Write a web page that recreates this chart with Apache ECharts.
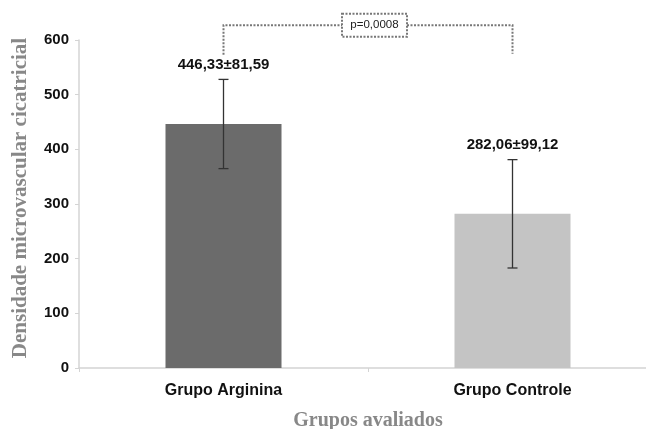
<!DOCTYPE html>
<html><head><meta charset="utf-8">
<script src="https://cdn.jsdelivr.net/npm/echarts@6/dist/echarts.min.js"></script>
<style>html,body{margin:0;padding:0;background:#fff}#c{width:646px;height:429px}</style>
</head><body><div id="c"></div>
<script>
const categories = ['Grupo Arginina', 'Grupo Controle'];
const means = [446.33, 282.06];
const sds = [81.59, 99.12];
const barLabels = ['446,33±81,59', '282,06±99,12'];
const barColors = ['#6b6b6b', '#c4c4c4'];
const yTicks = [0, 100, 200, 300, 400, 500, 600];
const pLabel = 'p=0,0008';
const bracketLevels = [627, 573, 575]; // top, left foot, right foot (data units)

const chart = echarts.init(document.getElementById('c'));
const option = {
  animation: false,
  grid: { left: 79, top: 40, width: 578, height: 328, outerBoundsMode: 'none', containLabel: false },
  xAxis: {
    type: 'category', data: categories,
    axisLine: { lineStyle: { color: '#d4d4d4', width: 1.5 } },
    axisTick: { show: true, alignWithLabel: false, length: 4, lineStyle: { color: '#d4d4d4' } },
    axisLabel: { fontFamily: 'Liberation Sans, Arial', fontWeight: 'bold', fontSize: 16, color: '#111', margin: 15 },
    name: 'Grupos avaliados', nameLocation: 'middle', nameGap: 43,
    nameTextStyle: { fontFamily: 'Liberation Serif, Times New Roman', fontWeight: 'bold', fontSize: 20, color: '#888' }
  },
  yAxis: {
    type: 'value', min: yTicks[0], max: yTicks[yTicks.length - 1], interval: 100,
    axisLine: { show: true, lineStyle: { color: '#d4d4d4', width: 1.5 } },
    axisTick: { show: true, length: 4, lineStyle: { color: '#d4d4d4' } },
    splitLine: { show: false },
    axisLabel: { fontFamily: 'Liberation Sans, Arial', fontWeight: 'bold', fontSize: 15, color: '#111', margin: 10 },
    name: 'Densidade microvascular cicatricial', nameLocation: 'middle', nameGap: 48,
    nameTextStyle: { fontFamily: 'Liberation Serif, Times New Roman', fontWeight: 'bold', fontSize: 21, color: '#888', padding: [0, 0, 0, 12] }
  },
  series: [
    {
      type: 'bar', barWidth: 116,
      data: means.map((v, i) => ({ value: v, itemStyle: { color: barColors[i] } }))
    },
    {
      type: 'custom',
      data: means.map((m, i) => [i, m - sds[i], m + sds[i]]),
      renderItem: function (params, api) {
        const i = api.value(0);
        const lo = api.coord([i, api.value(1)]);
        const hi = api.coord([i, api.value(2)]);
        const cw = 5;
        const st = { stroke: '#333', lineWidth: 1.3 };
        return {
          type: 'group', children: [
            { type: 'line', shape: { x1: lo[0], y1: lo[1], x2: hi[0], y2: hi[1] }, style: st },
            { type: 'line', shape: { x1: lo[0] - cw, y1: lo[1], x2: lo[0] + cw, y2: lo[1] }, style: st },
            { type: 'line', shape: { x1: hi[0] - cw, y1: hi[1], x2: hi[0] + cw, y2: hi[1] }, style: st },
            { type: 'text', style: { text: barLabels[i], x: hi[0], y: hi[1] - 15, align: 'center', verticalAlign: 'middle',
                fontFamily: 'Liberation Sans, Arial', fontWeight: 'bold', fontSize: 15, fill: '#111' } }
          ]
        };
      },
      z: 5
    }
  ]
};
chart.setOption(option);

const pL = chart.convertToPixel({ gridIndex: 0 }, [0, bracketLevels[1]]);
const pTL = chart.convertToPixel({ gridIndex: 0 }, [0, bracketLevels[0]]);
const pR = chart.convertToPixel({ gridIndex: 0 }, [1, bracketLevels[2]]);
const pTR = chart.convertToPixel({ gridIndex: 0 }, [1, bracketLevels[0]]);
const bx = 342, bw = 65, bh = 23;
const by = pTL[1] - bh / 2;
const dot = { stroke: '#777', lineWidth: 2, lineDash: [2, 1.5] };
chart.setOption({
  graphic: [
    { type: 'polyline', shape: { points: [[pL[0], pL[1]], [pTL[0], pTL[1]], [bx, pTL[1]]] }, style: Object.assign({ fill: null }, dot) },
    { type: 'polyline', shape: { points: [[bx + bw, pTR[1]], [pTR[0], pTR[1]], [pR[0], pR[1]]] }, style: Object.assign({ fill: null }, dot) },
    { type: 'rect', shape: { x: bx, y: by, width: bw, height: bh }, style: Object.assign({ fill: '#fff' }, dot) },
    { type: 'text', style: { text: pLabel, x: bx + bw / 2, y: pTL[1], align: 'center', verticalAlign: 'middle',
        fontFamily: 'Liberation Sans, Arial', fontSize: 11.5, fill: '#222' } }
  ]
});
</script></body></html>
